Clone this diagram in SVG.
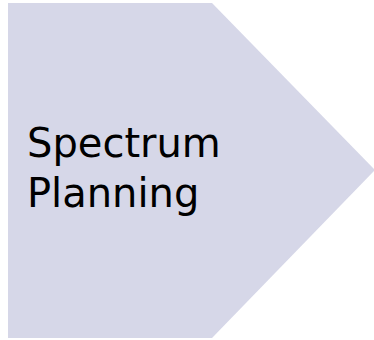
<svg xmlns="http://www.w3.org/2000/svg" width="374" height="340" viewBox="0 0 374 340">
<style>
.shape{fill:#d6d7e8;stroke:none}
.label{font-family:"DejaVu Sans",Verdana,sans-serif;font-size:40px;fill:#000}
</style>
<rect width="374" height="340" fill="#ffffff"/>
<g id="spectrum-planning">
<polygon class="shape" points="8,3 212,3 375,170 212,338 8,338"/>
<text class="label" x="27" y="157">Spectrum</text>
<text class="label" x="27" y="207">Planning</text>
</g>
<g id="connectors"/>
</svg>
